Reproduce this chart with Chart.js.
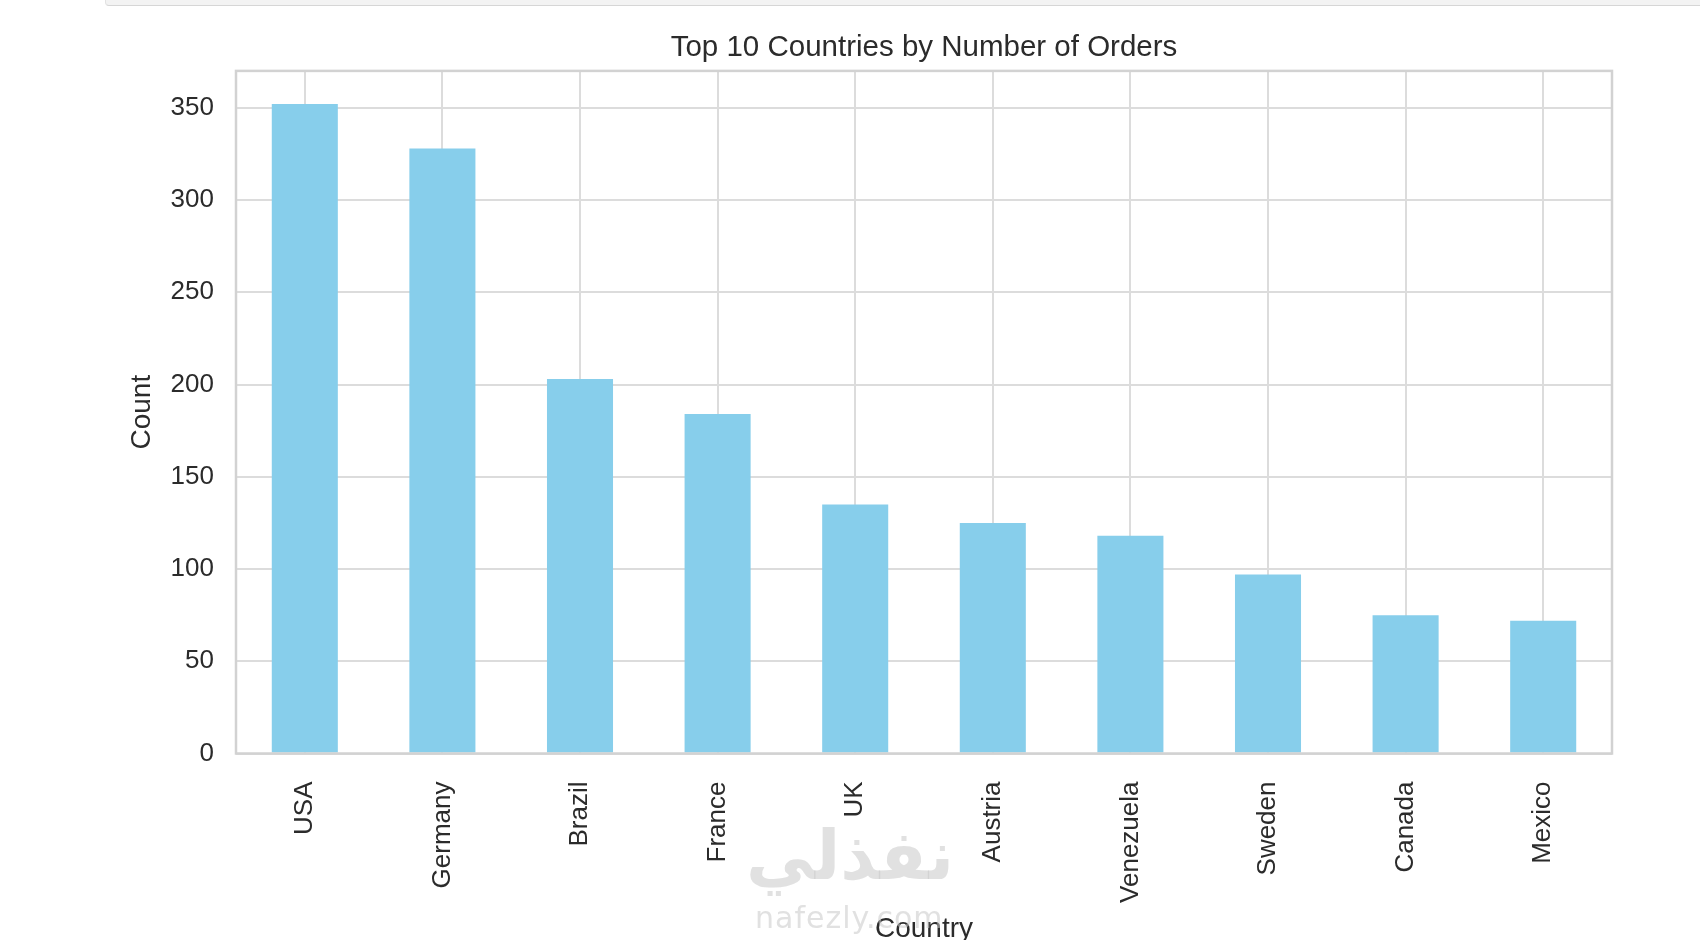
<!DOCTYPE html>
<html>
<head>
<meta charset="utf-8">
<script src="https://cdn.jsdelivr.net/npm/chart.js@4.4.0/dist/chart.umd.min.js"></script>
<style>
  body { margin: 0; background: #fff; overflow: hidden; }
  #wrap { position: relative; width: 1700px; height: 940px; overflow: hidden; }
  #topbar { position: absolute; left: 105px; top: 0; width: 1600px; height: 5px;
            background: #f3f3f3; border-bottom: 1.5px solid #d6d6d6; border-left: 1.5px solid #e2e2e2;
            border-bottom-left-radius: 4px; }
  #ordersChart { position: absolute; left: 0; top: 0; }
  .wm { position: absolute; color: rgba(200, 200, 200, 0.55); pointer-events: none; white-space: nowrap; }
  #wmAr { left: 746px; top: 816px; font: bold 68px "DejaVu Sans", sans-serif; }
  #wmEn { left: 755px; top: 900px; font: 30px "DejaVu Sans", sans-serif; letter-spacing: 1px; }
</style>
</head>
<body>
<div id="wrap">
  <div id="topbar"></div>
  <canvas id="ordersChart" width="1700" height="960"></canvas>
  <div class="wm" id="wmAr">نفذلي</div>
  <div class="wm" id="wmEn">nafezly.com</div>
</div>
<script>
const countries = ['USA', 'Germany', 'Brazil', 'France', 'UK', 'Austria', 'Venezuela', 'Sweden', 'Canada', 'Mexico'];
const orderCounts = [352, 328, 203, 184, 135, 125, 118, 97, 75, 72];
const yTicks = [0, 50, 100, 150, 200, 250, 300, 350];

const fontFamily = '"Liberation Sans", Arial, sans-serif';
const textColor = '#2b2b2b';
const gridColor = '#dcdcdc';

// matplotlib style frame round the whole plot area
const frame = {
  id: 'frame',
  afterDraw(chart) {
    const { ctx, chartArea: a } = chart;
    ctx.save();
    ctx.strokeStyle = '#d2d2d2';
    ctx.lineWidth = 2.5;
    ctx.strokeRect(a.left, a.top, a.right - a.left, a.bottom - a.top);
    ctx.restore();
  }
};

const ctx = document.getElementById('ordersChart');

new Chart(ctx, {
  type: 'bar',
  data: {
    labels: countries,
    datasets: [{
      data: orderCounts,
      backgroundColor: '#87CEEB',
      barPercentage: 0.48,
      categoryPercentage: 1.0
    }]
  },
  options: {
    responsive: false,
    animation: false,
    layout: { padding: { left: 110, right: 88, top: 0, bottom: 0 } },
    plugins: {
      legend: { display: false },
      tooltip: { enabled: false },
      title: {
        display: true,
        text: 'Top 10 Countries by Number of Orders',
        fullSize: false,
        color: textColor,
        font: { family: fontFamily, size: 29.5, weight: 'normal' },
        padding: { top: 30, bottom: 5.5 }
      }
    },
    scales: {
      x: {
        offset: true,
        grid: { offset: false, color: gridColor, lineWidth: 2, drawTicks: false },
        border: { display: false },
        ticks: {
          minRotation: 90, maxRotation: 90, autoSkip: false, padding: 28,
          color: textColor, font: { family: fontFamily, size: 26 }
        },
        title: {
          display: true, text: 'Country', color: textColor,
          font: { family: fontFamily, size: 28 }, padding: { top: 0, bottom: 14 }
        },
        afterFit: s => { s.height = 206.5; }
      },
      y: {
        min: 0,
        max: 370,
        afterBuildTicks: s => { s.ticks = yTicks.map(v => ({ value: v })); },
        grid: { color: gridColor, lineWidth: 2, drawTicks: false },
        border: { display: false },
        ticks: { padding: 22, color: textColor, font: { family: fontFamily, size: 26 } },
        title: {
          display: true, text: 'Count', color: textColor,
          font: { family: fontFamily, size: 28 }, padding: { top: 15, bottom: 0 }
        },
        afterFit: s => { s.width = 126; }
      }
    }
  },
  plugins: [frame]
});
</script>
</body>
</html>
